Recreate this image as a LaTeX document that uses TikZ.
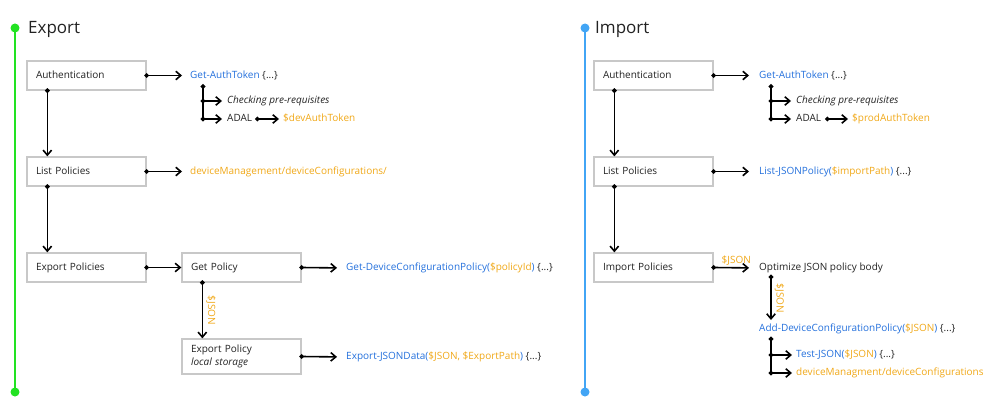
\documentclass[tikz,border=0pt]{standalone}
\usepackage{fontspec}
\setmainfont{Open Sans}
\usepackage{xcolor}
\usepackage{tikz}
\usetikzlibrary{arrows.meta, positioning}

\definecolor{exgreen}{RGB}{34,226,34}
\definecolor{imblue}{RGB}{66,165,245}
\definecolor{psblue}{RGB}{36,112,220}
\definecolor{psorange}{RGB}{240,168,24}
\definecolor{boxline}{RGB}{200,200,200}
\definecolor{ink}{RGB}{34,34,34}

\newcommand{\pscmd}[1]{\textcolor{psblue}{#1}}
\newcommand{\psvar}[1]{\textcolor{psorange}{#1}}

\begin{document}
\begin{tikzpicture}[
    x=1pt, y=-1pt,
    node distance=96pt,
    font=\fontsize{10}{13}\selectfont,
    text=ink,
    block/.style={draw=boxline, line width=1.3pt, fill=white, text width=101pt, inner xsep=9pt, align=left, minimum height=29pt, text height=7.5pt, text depth=2pt},
    txt/.style={anchor=west, inner sep=0pt, text height=7.5pt, text depth=2pt},
    title/.style={anchor=west, inner sep=0pt, font=\fontsize{17}{20}\selectfont},
    flow/.style={line width=1.6pt, {Circle[length=4.5pt]}-{Straight Barb[length=5pt,width=8.5pt]}, shorten <=-2.25pt},
    trunk/.style={line width=1.6pt, {Circle[length=4.5pt]}-, shorten <=-2.25pt},
    timeline/.style={line width=2.5pt}
]
    \useasboundingbox (0,0) rectangle (999,420);

    % Timelines
    \coordinate (extop) at (15,28);
    \coordinate (exbot) at (15,392);
    \coordinate (imtop) at (585,28);
    \coordinate (imbot) at (585,392);
    \draw[timeline, exgreen] (extop) -- (exbot);
    \fill[exgreen] (extop) circle (4.5pt) (exbot) circle (4.5pt);
    \draw[timeline, imblue] (imtop) -- (imbot);
    \fill[imblue] (imtop) circle (4.5pt) (imbot) circle (4.5pt);

    % Node placement - Export
    \node (extitle) [title] at (28,29) {Export};
    \node (exauth) [block] at (86.5,75.5) {Authentication};
    \node (exlist) [block, below of=exauth] {List Policies};
    \node (expol) [block, below of=exlist] {Export Policies};
    \node (exget) [block, right of=expol, node distance=155pt] {Get Policy};
    \node (exstore) [block, below of=exget, node distance=89pt, text depth=15pt, minimum height=35pt] {Export Policy\\\textit{local storage}};

    \node (exgat) [txt] at (190,75.5) {\pscmd{Get-AuthToken} \{...\}};
    \node (excheck) [txt] at (227,101) {\textit{Checking pre-requisites}};
    \node (exadal) [txt] at (227,119) {ADAL};
    \node (exdevtok) [txt] at (283,119) {\psvar{\$devAuthToken}};
    \node (exlistapi) [txt] at (190,171.5) {\psvar{deviceManagement/deviceConfigurations/}};
    \node (exgetapi) [txt] at (346,268) {\pscmd{Get-DeviceConfigurationPolicy(}\psvar{\$policyId}\pscmd{)} \{...\}};
    \node (exsaveapi) [txt] at (346,357) {\pscmd{Export-JSONData(}\psvar{\$JSON, \$ExportPath}\pscmd{)} \{...\}};

    % Node placement - Import
    \node (imtitle) [title] at (595,29) {Import};
    \node (imauth) [block] at (653.5,75.5) {Authentication};
    \node (imlist) [block, below of=imauth] {List Policies};
    \node (impol) [block, below of=imlist] {Import Policies};

    \node (imgat) [txt] at (759,75.5) {\pscmd{Get-AuthToken} \{...\}};
    \node (imcheck) [txt] at (796,101) {\textit{Checking pre-requisites}};
    \node (imadal) [txt] at (796,119) {ADAL};
    \node (improdtok) [txt] at (852,119) {\psvar{\$prodAuthToken}};
    \node (imlistapi) [txt] at (759,171.5) {\pscmd{List-JSONPolicy(}\psvar{\$importPath}\pscmd{)} \{...\}};
    \node (imopt) [txt] at (759,268) {Optimize JSON policy body};
    \node (imadd) [txt] at (759,329) {\pscmd{Add-DeviceConfigurationPolicy(}\psvar{\$JSON}\pscmd{)} \{...\}};
    \node (imtest) [txt] at (796,355) {\pscmd{Test-JSON(}\psvar{\$JSON}\pscmd{)} \{...\}};
    \node (imcfg) [txt] at (796,373) {\psvar{deviceManagment/deviceConfigurations}};

    % Arrows - Export
    \path[flow] ([xshift=21pt]exauth.south west) edge ([xshift=21pt]exlist.north west);
    \path[flow] ([xshift=21pt]exlist.south west) edge ([xshift=21pt]expol.north west);
    \path[flow] (exauth.east) edge[shorten >=8pt] (exgat.west);
    \path[flow] (exlist.east) edge[shorten >=8pt] (exlistapi.west);
    \path[flow] (expol.east) edge (exget.west);
    \path[flow] (exget.east) edge[shorten >=9pt] (exgetapi.west);
    \path[flow] (exstore.east) edge[shorten >=9pt] (exsaveapi.west);
    \path[flow] ([xshift=21pt]exget.south west) edge node[midway, anchor=south, rotate=-90, text=psorange, inner sep=3pt] {\$JSON} ([xshift=21pt]exstore.north west);

    \coordinate (exgatbr) at ([xshift=13pt,yshift=-11pt]exgat.west);
    \draw[trunk] (exgatbr) -- (exgatbr |- exadal.west);
    \path[flow, shorten >=5pt] (exgatbr |- excheck.west) edge (excheck.west);
    \path[flow, shorten >=5pt] (exgatbr |- exadal.west) edge (exadal.west);
    \path[flow, shorten >=4pt] ([xshift=5pt]exadal.east) edge (exdevtok.west);

    % Arrows - Import
    \path[flow] ([xshift=21pt]imauth.south west) edge ([xshift=21pt]imlist.north west);
    \path[flow] ([xshift=21pt]imlist.south west) edge ([xshift=21pt]impol.north west);
    \path[flow] (imauth.east) edge[shorten >=10pt] (imgat.west);
    \path[flow] (imlist.east) edge[shorten >=10pt] (imlistapi.west);
    \path[flow] (impol.east) edge[shorten >=10pt] node[midway, above, text=psorange, inner sep=1.5pt] {\$JSON} (imopt.west);
    \path[flow] ([xshift=12pt,yshift=-9pt]imopt.west) edge node[midway, anchor=south, rotate=-90, text=psorange, inner sep=3pt] {\$JSON} ([xshift=12pt,yshift=9pt]imadd.west);

    \coordinate (imgatbr) at ([xshift=12pt,yshift=-11pt]imgat.west);
    \draw[trunk] (imgatbr) -- (imgatbr |- imadal.west);
    \path[flow, shorten >=5pt] (imgatbr |- imcheck.west) edge (imcheck.west);
    \path[flow, shorten >=5pt] (imgatbr |- imadal.west) edge (imadal.west);
    \path[flow, shorten >=4pt] ([xshift=6pt]imadal.east) edge (improdtok.west);

    \coordinate (imaddbr) at ([xshift=12pt,yshift=-10pt]imadd.west);
    \draw[trunk] (imaddbr) -- (imaddbr |- imcfg.west);
    \path[flow, shorten >=4pt] (imaddbr |- imtest.west) edge (imtest.west);
    \path[flow, shorten >=4pt] (imaddbr |- imcfg.west) edge (imcfg.west);

\end{tikzpicture}
\end{document}
